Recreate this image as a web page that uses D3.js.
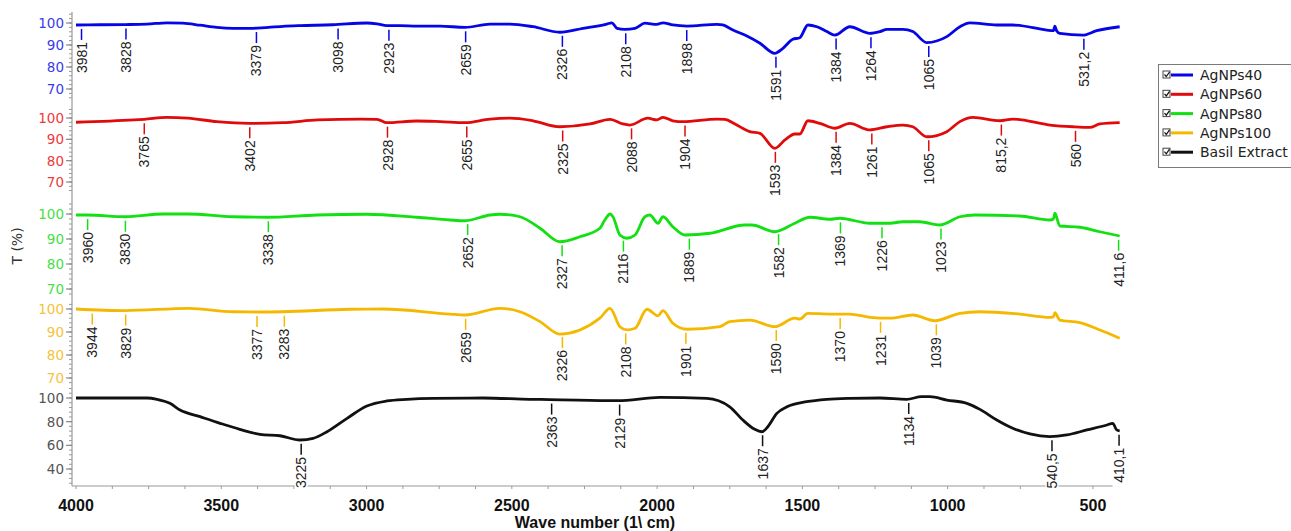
<!DOCTYPE html>
<html><head><meta charset="utf-8">
<script src="https://cdn.jsdelivr.net/npm/d3@7"></script>
<style>body{margin:0;background:#fff;} svg{display:block;}</style>
</head><body>
<svg id="c" width="1291" height="531"></svg>
<script>
// ---------------- DATA ----------------
const seriesNames = ["AgNPs40", "AgNPs60", "AgNPs80", "AgNPs100", "Basil Extract"];

const agnps40 = [[4000,99.1],[3917,99.2],[3831,99.3],[3756,99.5],[3687,100.1],[3632,99.9],[3573,99.0],[3515,98.0],[3460,97.6],[3391,97.6],[3288,98.5],[3229,98.8],[3116,99.2],[2999,100],[2964,99.6],[2930,98.8],[2885,98.8],[2827,98.6],[2747,98.6],[2661,98.0],[2575,99.5],[2507,99.5],[2427,98.3],[2335,95.8],[2255,97.6],[2173,99.5],[2156,100.1],[2138,97.6],[2111,97.1],[2076,97.6],[2042,99.9],[2001,99.4],[1980,100.1],[1946,99.1],[1897,98.6],[1794,99.4],[1774,99.1],[1739,96.8],[1691,94.1],[1646,90.8],[1595,86.2],[1567,88.5],[1533,92.6],[1509,93.3],[1481,99.1],[1450,98.3],[1416,96.1],[1388,94.5],[1337,98.3],[1268,95.3],[1233,96.1],[1209,97.1],[1154,97.1],[1120,96.1],[1072,91.1],[1003,93.8],[958,98.3],[924,100.1],[831,99.1],[776,99.1],[659,96.8],[636,96.5],[631,98.6],[625,96.5],[614,95.3],[535,94.5],[487,96.5],[408,98.3]];

const agnps60 = [[4000,98.0],[3800,99.1],[3765,99.4],[3687,100.3],[3615,99.9],[3515,98.3],[3405,97.5],[3288,97.8],[3168,99.1],[3020,99.5],[2964,99.4],[2930,97.8],[2827,98.6],[2747,98.3],[2661,97.8],[2575,99.5],[2507,99.9],[2427,98.7],[2335,95.9],[2231,97.2],[2162,99.4],[2118,97.2],[2094,96.7],[2032,99.9],[2001,99.1],[1980,100.3],[1946,98.7],[1911,98.3],[1794,99.5],[1767,99.4],[1732,97.2],[1681,93.6],[1646,92.8],[1595,85.8],[1560,89.7],[1526,92.5],[1509,92.5],[1481,98.7],[1440,97.5],[1388,95.2],[1337,97.5],[1268,94.4],[1209,95.9],[1154,96.7],[1120,95.9],[1072,91.2],[1003,93.6],[958,98.3],[913,100.3],[820,98.7],[776,99.5],[648,96.7],[569,95.9],[511,95.6],[476,97.2],[408,97.8]];

const agnps80 = [[4000,99.6],[3960,99.6],[3831,98.9],[3700,100],[3615,100],[3460,98.9],[3343,98.7],[3171,99.6],[2999,99.9],[2827,98.7],[2713,97.6],[2661,97.3],[2575,99.6],[2541,99.9],[2472,98.9],[2403,94.3],[2335,88.9],[2266,90.9],[2197,94.3],[2180,97.6],[2162,100],[2152,98.9],[2128,91.6],[2104,90.3],[2076,91.6],[2042,98.9],[2025,99.6],[1997,96.3],[1980,98.9],[1946,94.9],[1904,91.6],[1818,92.3],[1698,95.6],[1674,95.6],[1595,92.9],[1526,96.3],[1474,98.7],[1405,97.9],[1371,98.3],[1268,96.3],[1199,96.3],[1154,96.9],[1096,96.9],[1027,95.6],[958,98.9],[907,99.6],[752,99.2],[648,97.6],[636,98.0],[631,100.3],[614,95.2],[545,94.7],[476,92.9],[408,91.2]];

const agnps100 = [[4000,100],[3831,99.3],[3611,100.3],[3460,98.8],[3367,98.7],[3288,98.8],[3057,99.9],[2944,100],[2713,97.8],[2661,97.4],[2541,100.3],[2472,98.8],[2403,94.5],[2335,89.1],[2197,96.0],[2162,100.3],[2128,92.3],[2104,90.9],[2076,91.6],[2035,99.9],[1997,97.0],[1980,99.3],[1946,93.8],[1897,91.2],[1784,92.3],[1750,94.5],[1681,95.2],[1595,92.3],[1526,96.0],[1509,95.6],[1481,98.1],[1405,97.8],[1337,97.8],[1268,96.4],[1199,96.0],[1120,97.4],[1044,94.9],[958,98.1],[889,98.8],[752,97.8],[648,96.4],[636,96.6],[631,98.4],[614,95.2],[545,94.1],[476,90.9],[408,87.3]];

const basil = [[4000,100],[3756,100],[3721,98.9],[3677,95.5],[3642,89.9],[3573,84.2],[3504,78.6],[3436,73.5],[3367,69.3],[3298,68.1],[3229,64.5],[3184,65.9],[3136,71.5],[3067,82.8],[2999,93.2],[2930,97.5],[2861,98.9],[2772,99.7],[2600,100],[2438,98.9],[2369,98.7],[2135,97.7],[1990,100.5],[1829,99.7],[1750,92.6],[1705,81.4],[1664,73.5],[1639,71.5],[1619,75.7],[1588,87.0],[1553,92.6],[1485,96.9],[1416,98.9],[1337,99.7],[1233,100],[1141,98.9],[1090,101.1],[1061,101.1],[1003,98.3],[934,95.5],[889,90.4],[831,81.4],[776,74.4],[717,69.6],[649,67.4],[590,68.8],[521,73.0],[452,77.2],[432,78.6],[418,73.0],[408,72.2]];

// peak annotations: marker position (cm-1) and printed label
const peakPos40 = [3981,3828,3379,3098,2923,2659,2326,2108,1898,1591,1384,1264,1065,531.2];
const peakLab40 = ["3981","3828","3379","3098","2923","2659","2326","2108","1898","1591","1384","1264","1065","531,2"];
const peakPos60 = [3765,3402,2928,2655,2325,2088,1904,1593,1384,1261,1065,815.2,560];
const peakLab60 = ["3765","3402","2928","2655","2325","2088","1904","1593","1384","1261","1065","815,2","560"];
const peakPos80 = [3960,3830,3338,2652,2327,2116,1889,1582,1369,1226,1023,411.6];
const peakLab80 = ["3960","3830","3338","2652","2327","2116","1889","1582","1369","1226","1023","411,6"];
const peakPos100 = [3944,3829,3377,3283,2659,2326,2108,1901,1590,1370,1231,1039];
const peakLab100 = ["3944","3829","3377","3283","2659","2326","2108","1901","1590","1370","1231","1039"];
const peakPosBasil = [3225,2363,2129,1637,1134,641,410.1];
const peakLabBasil = ["3225","2363","2129","1637","1134","540,5","410,1"];

const xTickValues = [4000,3500,3000,2500,2000,1500,1000,500];
const yTicksAg = [70,80,90,100];
const yTicksBasil = [40,60,80,100];

// ---------------- LAYOUT ----------------
const svg = d3.select("#c");
const colors = ["#0505e6","#e00a0a","#12e012","#f5b800","#111111"];
const labelColors = ["#3a3aee","#ee3a3a","#44e044","#f5c23a","#555555"];

const x = d3.scaleLinear().domain([4000, 400]).range([76, 1122]);

const panels = [
  {data: agnps40, pos: peakPos40, lab: peakLab40, y: d3.scaleLinear().domain([70,100]).range([89,23]), ext:[66,105], ticks: yTicksAg, minor: 2},
  {data: agnps60, pos: peakPos60, lab: peakLab60, y: d3.scaleLinear().domain([70,100]).range([182,118]), ext:[66,104], ticks: yTicksAg, minor: 2},
  {data: agnps80, pos: peakPos80, lab: peakLab80, y: d3.scaleLinear().domain([70,100]).range([289,214]), ext:[68,104], ticks: yTicksAg, minor: 2},
  {data: agnps100, pos: peakPos100, lab: peakLab100, y: d3.scaleLinear().domain([70,100]).range([378,309]), ext:[68,102], ticks: yTicksAg, minor: 2},
  {data: basil, pos: peakPosBasil, lab: peakLabBasil, y: d3.scaleLinear().domain([40,100]).range([469,398]), ext:[28,108], ticks: yTicksBasil, minor: 4}
];

const axisX = 72, axisBottom = 486;

svg.append("line").attr("x1", axisX).attr("x2", axisX).attr("y1", 12).attr("y2", axisBottom)
  .attr("stroke", "#9a9a9a").attr("stroke-width", 1.2);
svg.append("line").attr("x1", axisX).attr("x2", 1122).attr("y1", axisBottom).attr("y2", axisBottom)
  .attr("stroke", "#9a9a9a").attr("stroke-width", 1.2);

const xMinor = d3.range(500, 4001, 125);
svg.append("g").selectAll("line").data(xMinor).join("line")
  .attr("x1", d => x(d)).attr("x2", d => x(d)).attr("y1", axisBottom).attr("y2", axisBottom + 3)
  .attr("stroke", "#9a9a9a").attr("stroke-width", 1);
svg.append("g").selectAll("text").data(xTickValues).join("text")
  .attr("x", d => x(d)).attr("y", 511).attr("text-anchor", "middle")
  .attr("font-family", "Liberation Sans, Arial, sans-serif").attr("font-weight", "bold")
  .attr("font-size", 16).attr("fill", "#111").text(d => d);

svg.append("text").attr("x", 595).attr("y", 528).attr("text-anchor", "middle")
  .attr("font-family", "Liberation Sans, Arial, sans-serif").attr("font-weight", "bold")
  .attr("font-size", 16).attr("fill", "#111").text("Wave number (1\\ cm)");

svg.append("text").attr("transform", "translate(22,246) rotate(-90)").attr("text-anchor", "middle")
  .attr("font-family", "DejaVu Sans, sans-serif").attr("font-size", 14).attr("fill", "#333").text("T (%)");

function valueAt(data, wn) {
  for (let i = 0; i < data.length - 1; i++) {
    const a = data[i], b = data[i+1];
    if (wn <= a[0] && wn >= b[0]) {
      const t = (a[0] - wn) / (a[0] - b[0]);
      return a[1] + t * (b[1] - a[1]);
    }
  }
  return data[data.length-1][1];
}

panels.forEach((p, i) => {
  const g = svg.append("g");
  const minors = d3.range(Math.ceil(p.ext[0] / p.minor) * p.minor, p.ext[1] + 0.01, p.minor);
  g.selectAll("line.mn").data(minors).join("line")
    .attr("x1", axisX - 3).attr("x2", axisX).attr("y1", d => p.y(d)).attr("y2", d => p.y(d))
    .attr("stroke", "#9a9a9a").attr("stroke-width", 1);
  g.selectAll("line.mj").data(p.ticks).join("line")
    .attr("x1", axisX - 6).attr("x2", axisX).attr("y1", d => p.y(d)).attr("y2", d => p.y(d))
    .attr("stroke", "#888").attr("stroke-width", 1.2);
  g.selectAll("text.yl").data(p.ticks).join("text")
    .attr("x", 64).attr("y", d => p.y(d)).attr("dy", "0.36em").attr("text-anchor", "end")
    .attr("font-family", "DejaVu Sans, sans-serif").attr("font-size", 13.5)
    .attr("fill", labelColors[i]).text(d => d);

  const line = d3.line().x(d => x(d[0])).y(d => p.y(d[1])).curve(d3.curveMonotoneX);
  g.append("path").datum(p.data).attr("d", line).attr("fill", "none")
    .attr("stroke", colors[i]).attr("stroke-width", 2.8).attr("stroke-linejoin", "round");

  p.pos.forEach((wn, k) => {
    const px = x(wn);
    const cy = p.y(valueAt(p.data, wn));
    const label = p.lab[k];
    const tw = label.length * 7.8;
    g.append("rect").attr("x", px - 6.5).attr("y", cy + 16).attr("width", 13).attr("height", tw + 4)
      .attr("fill", "#fff");
    g.append("line").attr("x1", px).attr("x2", px).attr("y1", cy + 4).attr("y2", cy + 15)
      .attr("stroke", colors[i]).attr("stroke-width", 1.5);
    g.append("text").attr("transform", `translate(${px},${cy + 17}) rotate(-90)`)
      .attr("text-anchor", "end").attr("dy", "0.36em")
      .attr("font-family", "Liberation Sans, Arial, sans-serif").attr("font-size", 14)
      .attr("fill", "#222").text(label);
  });
});

// legend
const lg = svg.append("g").attr("transform", "translate(1158,64)");
lg.append("rect").attr("x", 0.5).attr("y", 0.5).attr("width", 150).attr("height", 103)
  .attr("fill", "#fff").attr("stroke", "#7a7a7a").attr("stroke-width", 1);
seriesNames.forEach((name, i) => {
  const cy = 11 + i * 19.3;
  const row = lg.append("g").attr("transform", `translate(0,${cy})`);
  row.append("rect").attr("x", 5).attr("y", -4).attr("width", 7).attr("height", 7)
    .attr("fill", "#fff").attr("stroke", "#444").attr("stroke-width", 1);
  row.append("path").attr("d", "M6.5,-0.5 L8.3,1.6 L11.5,-3").attr("fill", "none")
    .attr("stroke", "#111").attr("stroke-width", 1.2);
  row.append("line").attr("x1", 13).attr("x2", 35).attr("y1", 0).attr("y2", 0)
    .attr("stroke", colors[i]).attr("stroke-width", 3);
  row.append("text").attr("x", 42).attr("y", 0).attr("dy", "0.36em")
    .attr("font-family", "DejaVu Sans, sans-serif").attr("font-size", 14)
    .attr("fill", "#222").text(name);
});
</script>
</body></html>
